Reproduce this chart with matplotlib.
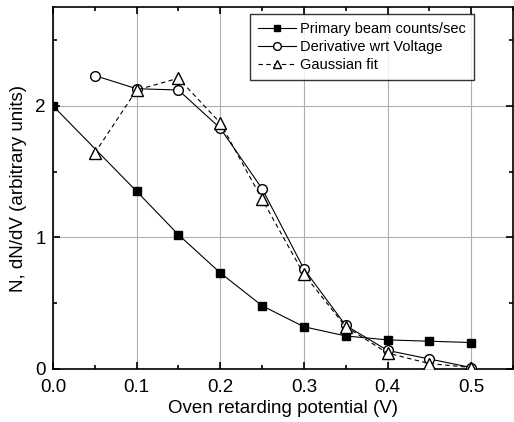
import matplotlib.pyplot as plt
from matplotlib.ticker import MultipleLocator

plt.rcParams["font.family"] = ["Liberation Sans", "DejaVu Sans"]

voltage = [0.0, 0.05, 0.1, 0.15, 0.2, 0.25, 0.3, 0.35, 0.4, 0.45, 0.5]
primary = [2.0, None, 1.35, 1.02, 0.73, 0.48, 0.32, 0.25, 0.22, 0.21, 0.20]
deriv_v = [0.05, 0.1, 0.15, 0.2, 0.25, 0.3, 0.35, 0.4, 0.45, 0.5]
derivative = [2.23, 2.13, 2.12, 1.83, 1.37, 0.76, 0.33, 0.14, 0.075, 0.01]
gaussian = [1.64, 2.12, 2.21, 1.87, 1.29, 0.72, 0.32, 0.12, 0.04, 0.01]

prim_v = [v for v, p in zip(voltage, primary) if p is not None]
prim_n = [p for p in primary if p is not None]

fig = plt.figure(figsize=(5.14, 4.22), dpi=100)
ax = fig.add_axes([0.103, 0.126, 0.895, 0.857])

ax.plot(prim_v, prim_n, "-", color="black", lw=0.8, marker="s", ms=6,
        mfc="black", mec="black", label="Primary beam counts/sec", zorder=3)
ax.plot(deriv_v, derivative, "-", color="black", lw=0.8, marker="o", ms=7,
        mfc="white", mec="black", label="Derivative wrt Voltage", zorder=3)
ax.plot(deriv_v, gaussian, "--", color="black", lw=0.8, marker="^", ms=8,
        mfc="white", mec="black", label="Gaussian fit", zorder=3,
        dashes=(4, 3))

ax.set_xlim(0, 0.55)
ax.set_ylim(0, 2.75)
ax.xaxis.set_minor_locator(MultipleLocator(0.05))
ax.yaxis.set_major_locator(MultipleLocator(1))
ax.yaxis.set_minor_locator(MultipleLocator(0.5))
ax.set_xticks([0.0, 0.1, 0.2, 0.3, 0.4, 0.5])
ax.set_xticklabels(["0.0", "0.1", "0.2", "0.3", "0.4", "0.5"])
ax.tick_params(which="both", direction="in", top=True, right=True,
               labelsize=13.5, width=1.2)
ax.tick_params(which="major", length=5)
ax.tick_params(which="minor", length=3)
ax.tick_params(axis="x", pad=7)
ax.tick_params(axis="y", pad=5)
ax.grid(True, which="major", color="#b0b0b0", lw=0.8)
for s in ax.spines.values():
    s.set_linewidth(1.2)

ax.set_xlabel("Oven retarding potential (V)", fontsize=13.5, labelpad=3)
ax.set_ylabel("N, dN/dV (arbitrary units)", fontsize=13.5, labelpad=6)

leg = ax.legend(loc="upper right", bbox_to_anchor=(0.915, 0.98),
                borderaxespad=0, fontsize=10.5,
                frameon=True, fancybox=False, edgecolor="black",
                handlelength=2.6, handletextpad=0.3, borderpad=0.55,
                labelspacing=0.25, markerscale=0.8)
leg.get_frame().set_linewidth(1.0)

fig.savefig("out.png", dpi=100)
